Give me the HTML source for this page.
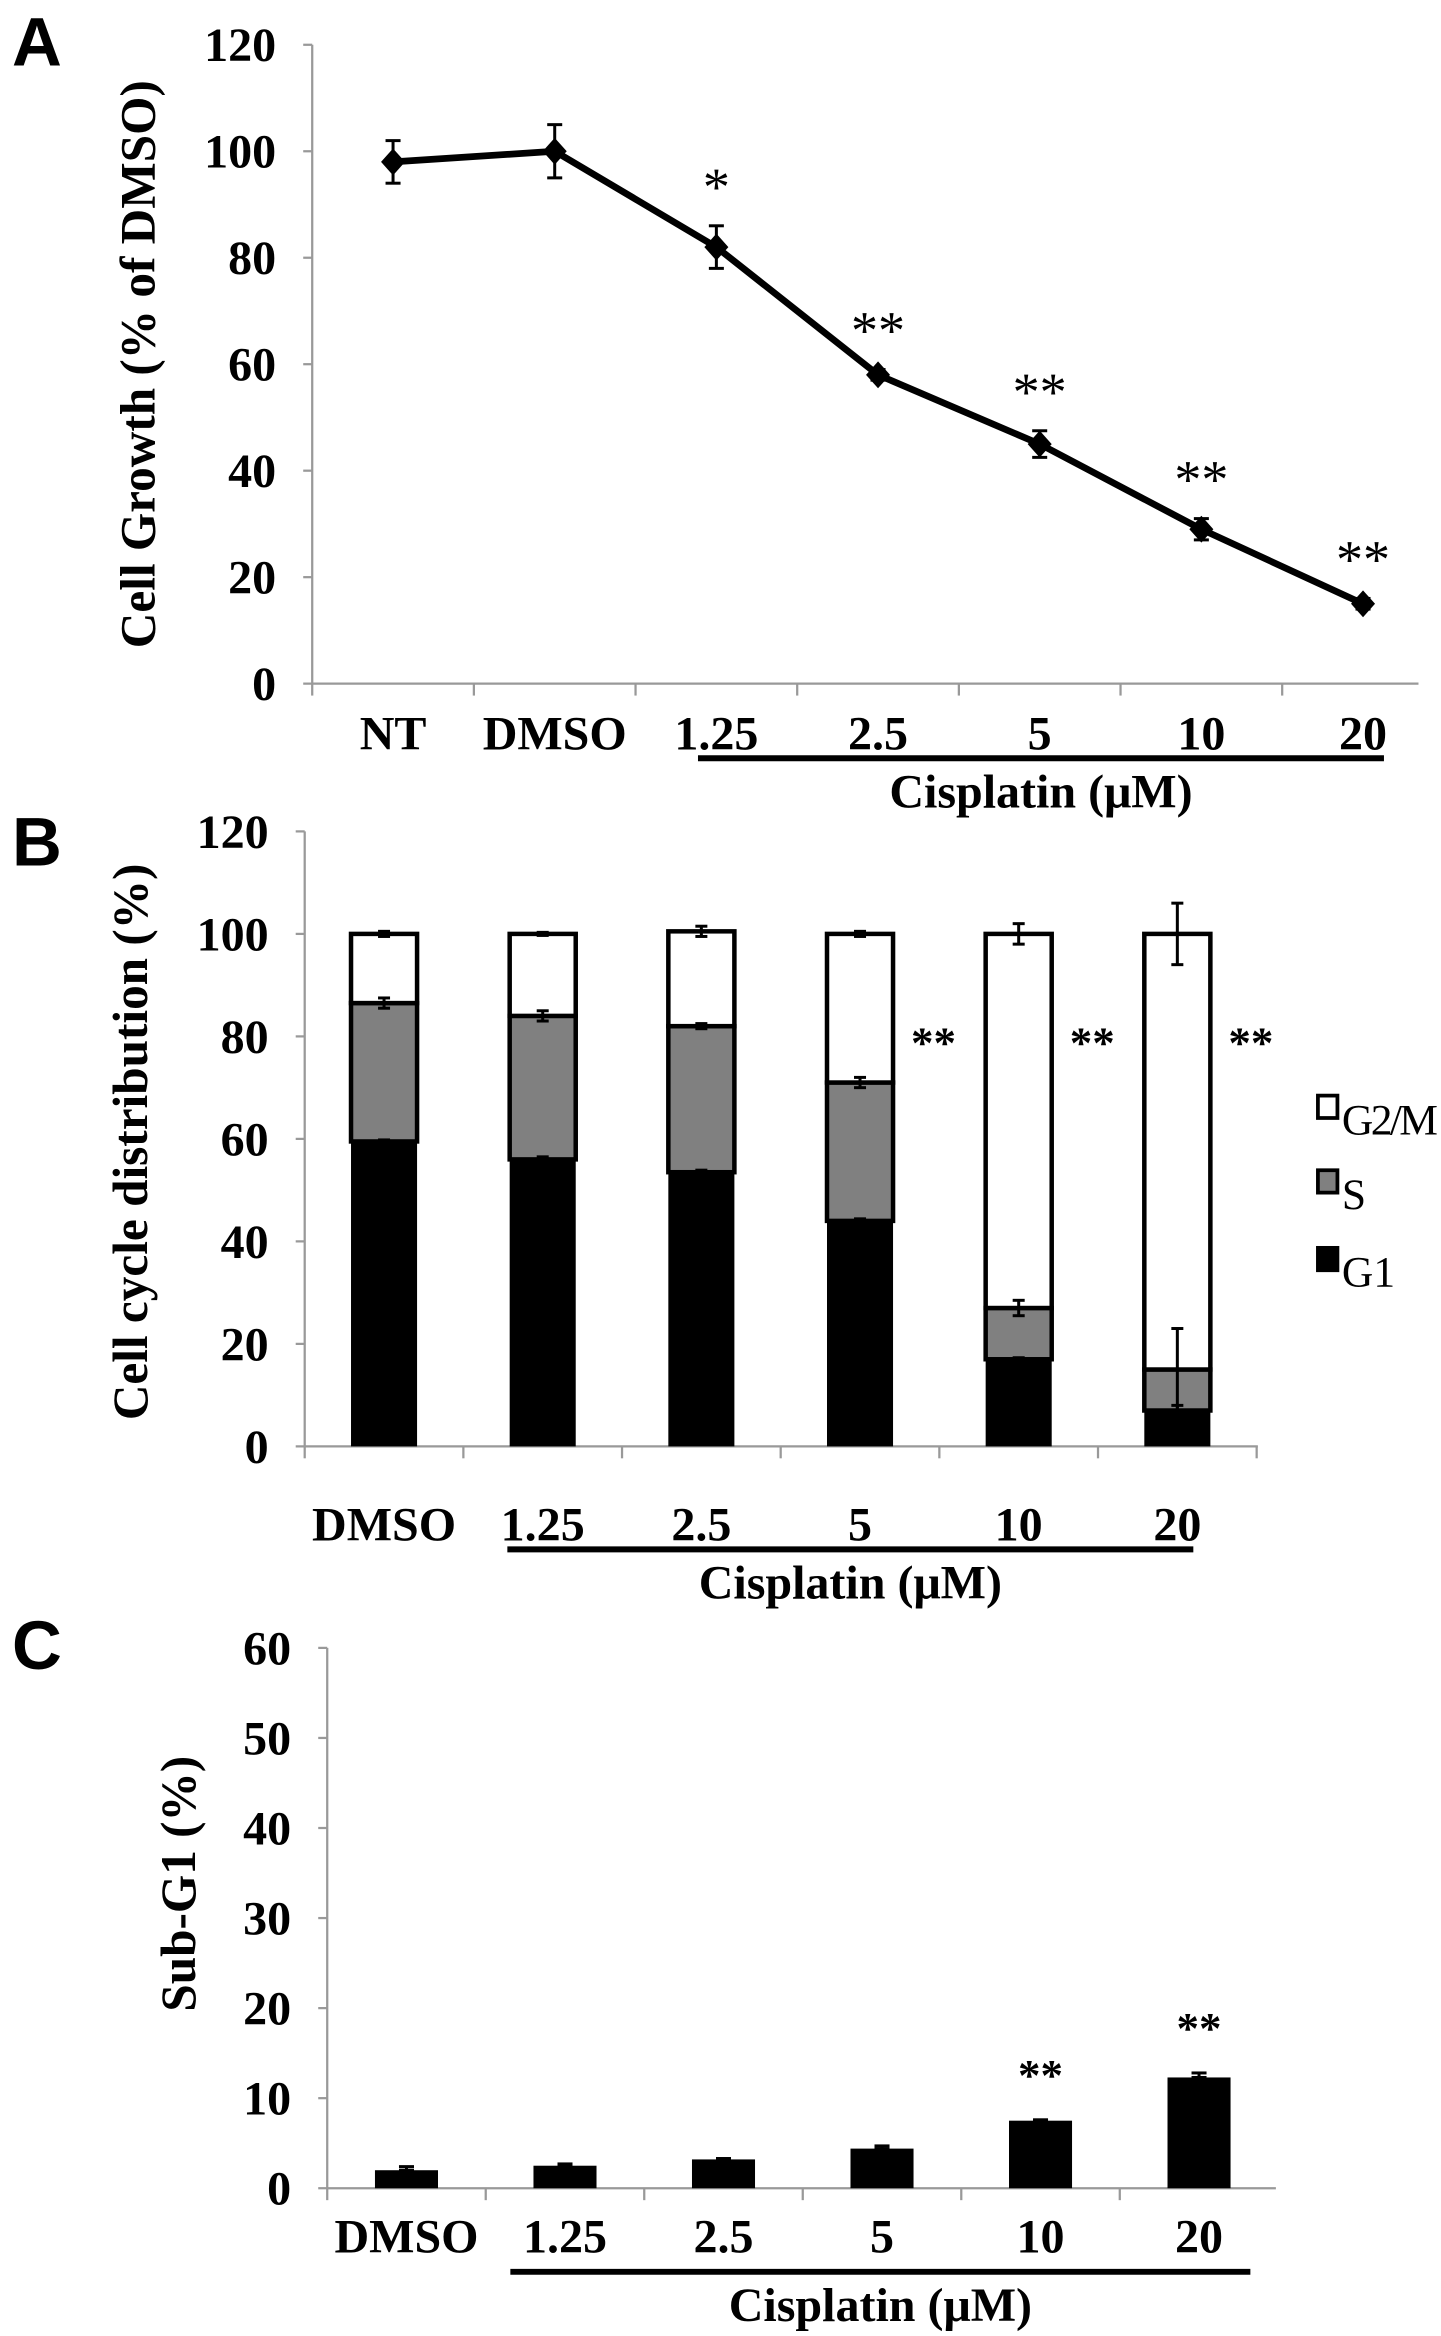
<!DOCTYPE html>
<html><head><meta charset="utf-8"><style>
html,body{margin:0;padding:0;background:#fff;}
svg{display:block;}
text{font-family:"Liberation Serif",serif;font-weight:bold;fill:#000;}
.pl{font-family:"Liberation Sans",sans-serif;font-size:46px;font-weight:bold;}
.tk{font-size:32px;}
.ax{stroke:#999;stroke-width:1.5;fill:none;}
</style></head><body>
<svg id="fig" width="1441" height="2336" viewBox="0 0 960 1565" preserveAspectRatio="none" xmlns="http://www.w3.org/2000/svg">
<text class="pl" x="8" y="44">A</text>
<text class="pl" x="8" y="580">B</text>
<text class="pl" x="8" y="1118">C</text>
<g id="ga"></g><g id="gb"></g><g id="gc"></g>
</svg>
<script>
// Panel A data
const catsA = ["NT","DMSO","1.25","2.5","5","10","20"];
const valsA = [98,100,82,58,45,29,15];
const errA = [4,5,4,1,2.5,2,1];
const starsA = ["","","*","**","**","**","**"];
const ticksA = [0,20,40,60,80,100,120];
// Panel B data
const catsB = ["DMSO","1.25","2.5","5","10","20"];
const g1B = [59.5,56,53.5,44,17,7];
const sB = [27,28,28.5,27,10,8];
const g2mB = [13.5,16,18.5,29,73,85];
const errG1B = [0.3,0.5,0.4,0.4,0.3,1];
const errSB = [1,1,0.5,1,1.5,8];
const errG2B = [0.5,0.3,1,0.5,2,6];
const starsB = ["","","","**","**","**"];
const ticksB = [0,20,40,60,80,100,120];
// Panel C data
const catsC = ["DMSO","1.25","2.5","5","10","20"];
const valsC = [2,2.5,3.2,4.4,7.5,12.3];
const errC = [0.4,0.2,0.1,0.3,0.1,0.5];
const starsC = ["","","","","**","**"];
const ticksC = [0,10,20,30,40,50,60];

const NS="http://www.w3.org/2000/svg";
function mk(parent,tag,attrs,txt){const e=document.createElementNS(NS,tag);for(const k in attrs)e.setAttribute(k,attrs[k]);if(txt!==undefined)e.textContent=txt;parent.appendChild(e);return e;}

function axes(g,o){
  const yS=v=>o.y0-(v-o.ymin)/(o.ymax-o.ymin)*(o.y0-o.y1);
  const ax=mk(g,'line',{x1:o.x0,y1:o.y1,x2:o.x0,y2:o.y0,class:'ax'});
  
  
  const xa=mk(g,'line',{x1:o.x0,y1:o.y0,x2:o.xe,y2:o.y0,class:'ax'});
  
  
  o.ticks.forEach(t=>{
    mk(g,'line',{x1:o.x0-6,x2:o.x0,y1:yS(t),y2:yS(t),class:'ax'});
    const tl=mk(g,'text',{x:o.x0-24,y:yS(t)+11,'text-anchor':'end',class:'tk'},String(t));
    
    
  });
  const n=o.cats.length;
  const xS=i=>o.x0+(i+0.5)*o.step;
  for(let i=0;i<=n;i++){const x=o.x0+i*o.step;if(x<=o.xe+1)mk(g,'line',{x1:x,x2:x,y1:o.y0,y2:o.y0+8,class:'ax'});}
  o.cats.forEach((c,i)=>{
    const l=mk(g,'text',{x:xS(i),y:o.labY,'text-anchor':'middle',class:'tk'},c);
    
    
  });
  const ul=mk(g,'line',{x1:o.ul[0],x2:o.ul[1],y1:o.ulY,y2:o.ulY,stroke:'#000','stroke-width':4});
  
  
  const xt=mk(g,'text',{x:(o.ul[0]+o.ul[1])/2,y:o.ulY+33,'text-anchor':'middle',class:'tk'},'Cisplatin (μM)');
  
  
  const yt=mk(g,'text',{x:0,y:0,'text-anchor':'middle',transform:`translate(${o.ytX},${o.ytY}) rotate(-90)`,style:'font-size:33px'},o.ytitle);
  
  
  return {xS,yS};
}
function ebar(g,x,yTop,yBot,w){
  mk(g,'line',{x1:x,x2:x,y1:yTop,y2:yBot,stroke:'#000','stroke-width':2});
  mk(g,'line',{x1:x-w,x2:x+w,y1:yTop,y2:yTop,stroke:'#000','stroke-width':2});
  mk(g,'line',{x1:x-w,x2:x+w,y1:yBot,y2:yBot,stroke:'#000','stroke-width':2});
}

// Panel A
(function(){
  const g=document.getElementById('ga');
  const {xS,yS}=axes(g,{x0:208,xe:945,y0:458,y1:30,ymin:0,ymax:120,ticks:ticksA,cats:catsA,step:107.7,labY:502,ul:[465,922],ulY:508,ytitle:'Cell Growth (% of DMSO)',ytX:103,ytY:244});
  const pts=valsA.map((v,i)=>`${xS(i)},${yS(v)}`).join(' ');
  const pl=mk(g,'polyline',{points:pts,fill:'none',stroke:'#000','stroke-width':4.5,'stroke-linejoin':'round'});
  
  
  valsA.forEach((v,i)=>{
    const x=xS(i),y=yS(v);
    ebar(g,x,yS(v+errA[i]),yS(v-errA[i]),5);
    const m=mk(g,'polygon',{points:`${x},${y-9} ${x+8},${y} ${x},${y+9} ${x-8},${y}`,fill:'#000'});
    
    
    if(starsA[i]){const s=mk(g,'text',{x:x,y:yS(v+errA[i])-14,'text-anchor':'middle',style:'font-size:36px;font-weight:normal'},starsA[i]);
      
      }
  });
})();

// Panel B
(function(){
  const g=document.getElementById('gb');
  const {xS,yS}=axes(g,{x0:203,xe:838,y0:969,y1:557,ymin:0,ymax:120,ticks:ticksB,cats:catsB,step:105.7,labY:1032,ul:[338,795],ulY:1038,ytitle:'Cell cycle distribution (%)',ytX:98,ytY:765});
  const w=44;
  catsB.forEach((c,i)=>{
    const x=xS(i);
    const a=g1B[i],b=a+sB[i],t=b+g2mB[i];
    const r1=mk(g,'rect',{x:x-w/2,y:yS(a),width:w,height:yS(0)-yS(a),fill:'#000'});
    
    
    const r2=mk(g,'rect',{x:x-w/2,y:yS(b),width:w,height:yS(a)-yS(b),fill:'#808080',stroke:'#000','stroke-width':3});
    
    
    const r3=mk(g,'rect',{x:x-w/2,y:yS(t),width:w,height:yS(b)-yS(t),fill:'#fff',stroke:'#000','stroke-width':3});
    
    
    ebar(g,x,yS(a+errG1B[i]),yS(a-errG1B[i]),4);
    ebar(g,x,yS(b+errSB[i]),yS(b-errSB[i]),4);
    ebar(g,x,yS(t+errG2B[i]),yS(t-errG2B[i]),4);
    if(starsB[i]){const s=mk(g,'text',{x:x+w/2+12,y:yS(80)+14,style:'font-size:30px'},starsB[i]);
      
      }
  });
  const leg=[['G2/M','#fff',748],['S','#808080',798],['G1','#000',850]];
  leg.forEach(l=>{
    const sw=mk(g,'rect',{x:878,y:l[2]-14,width:13,height:15,fill:l[1],stroke:'#000','stroke-width':2.5});
    
    
    const t=mk(g,'text',{x:894,y:l[2]+12,style:'font-size:29px;font-weight:normal',textLength:l[0]==='G2/M'?64:undefined},l[0]);
    if(l[0]!=='G2/M')t.removeAttribute('textLength');
    
    
  });
})();

// Panel C
(function(){
  const g=document.getElementById('gc');
  const {xS,yS}=axes(g,{x0:218,xe:850,y0:1466,y1:1104,ymin:0,ymax:60,ticks:ticksC,cats:catsC,step:105.6,labY:1509,ul:[340,833],ulY:1522,ytitle:'Sub-G1 (%)',ytX:130,ytY:1262});
  const w=42;
  valsC.forEach((v,i)=>{
    const x=xS(i);
    const r=mk(g,'rect',{x:x-w/2,y:yS(v),width:w,height:yS(0)-yS(v),fill:'#000'});
    
    
    ebar(g,x,yS(v+errC[i]),yS(v),5);
    if(starsC[i]){const s=mk(g,'text',{x:x,y:yS(v+errC[i])-20,'text-anchor':'middle',style:'font-size:30px'},starsC[i]);
      
      }
  });
})();
</script>
</body></html>
